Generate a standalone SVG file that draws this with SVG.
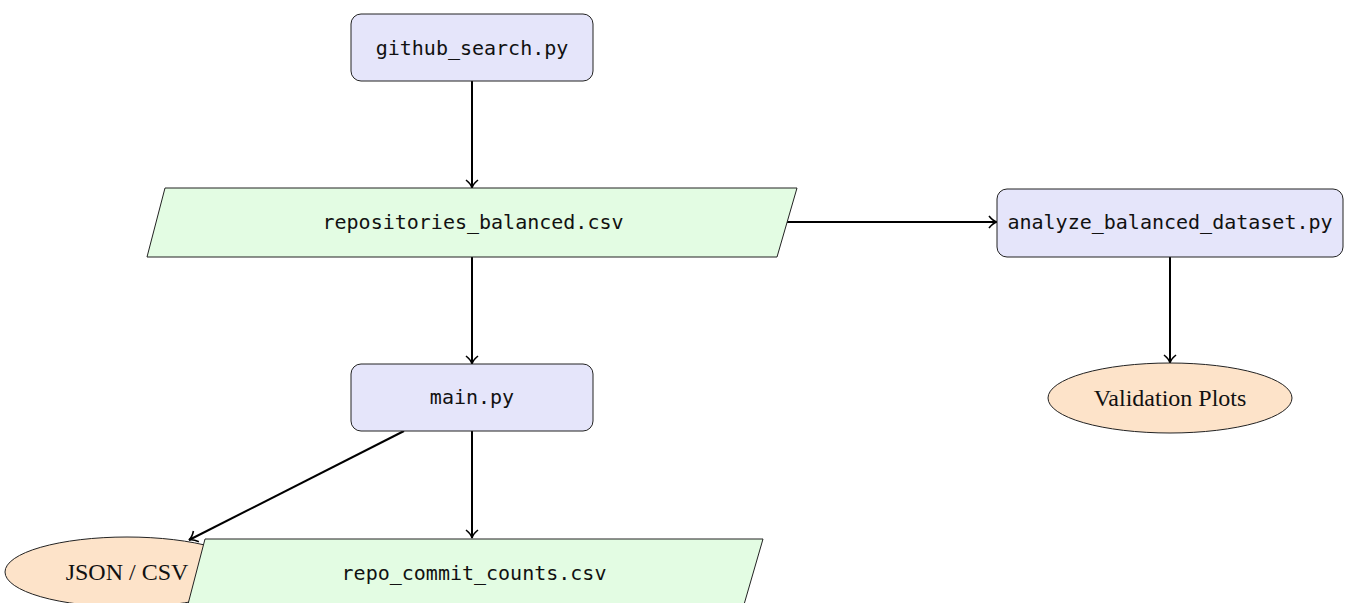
<svg xmlns="http://www.w3.org/2000/svg" width="1349" height="603" viewBox="0 0 1349 603">
  <defs>
    <style>
      .proc { fill: #e5e5fa; stroke: #222; stroke-width: 1; }
      .data { fill: #e3fce3; stroke: #222; stroke-width: 1; }
      .term { fill: #fde3c9; stroke: #222; stroke-width: 1; }
      .mono { font-family: "DejaVu Sans Mono", monospace; font-size: 20px; fill: #111; text-anchor: middle; }
      .serif { font-family: "Liberation Serif", serif; font-size: 24px; fill: #111; text-anchor: middle; }
      .edge { fill: none; stroke: #000; stroke-width: 2; marker-end: url(#arrow); }
    </style>
    <marker id="arrow" viewBox="0 0 12 14" refX="10" refY="7" markerWidth="12" markerHeight="14" markerUnits="userSpaceOnUse" orient="auto">
      <path d="M2,1 Q6,6 10,7 Q6,8 2,13" fill="none" stroke="#000" stroke-width="1.6"/>
    </marker>
  </defs>

  <g id="connectors">
    <line class="edge" x1="472" y1="81" x2="472" y2="188"/>
    <line class="edge" x1="472" y1="257" x2="472" y2="364"/>
    <line class="edge" x1="787" y1="222" x2="997" y2="222"/>
    <line class="edge" x1="1170" y1="257" x2="1170" y2="363"/>
    <line class="edge" x1="472" y1="431" x2="472" y2="538"/>
    <line class="edge" x1="404" y1="431" x2="189" y2="540"/>
  </g>

  <g id="github_search">
    <rect class="proc" x="351" y="14" width="242" height="67" rx="10"/>
    <text class="mono" x="472" y="55">github_search.py</text>
  </g>

  <g id="repositories_balanced">
    <polygon class="data" points="165,188 797,188 777,257 147,257"/>
    <text class="mono" x="473" y="229">repositories_balanced.csv</text>
  </g>

  <g id="analyze_balanced_dataset">
    <rect class="proc" x="997" y="189" width="346" height="68" rx="10"/>
    <text class="mono" x="1170" y="229">analyze_balanced_dataset.py</text>
  </g>

  <g id="validation_plots">
    <ellipse class="term" cx="1170" cy="398" rx="122" ry="35"/>
    <text class="serif" x="1170" y="406">Validation Plots</text>
  </g>

  <g id="main">
    <rect class="proc" x="351" y="364" width="242" height="67" rx="10"/>
    <text class="mono" x="472" y="404">main.py</text>
  </g>

  <g id="json_csv">
    <ellipse class="term" cx="127" cy="572" rx="122" ry="35"/>
    <text class="serif" x="127" y="580">JSON / CSV</text>
  </g>

  <g id="repo_commit_counts">
    <polygon class="data" points="205,539 763,539 743,608 187,608"/>
    <text class="mono" x="474" y="580">repo_commit_counts.csv</text>
  </g>
</svg>
